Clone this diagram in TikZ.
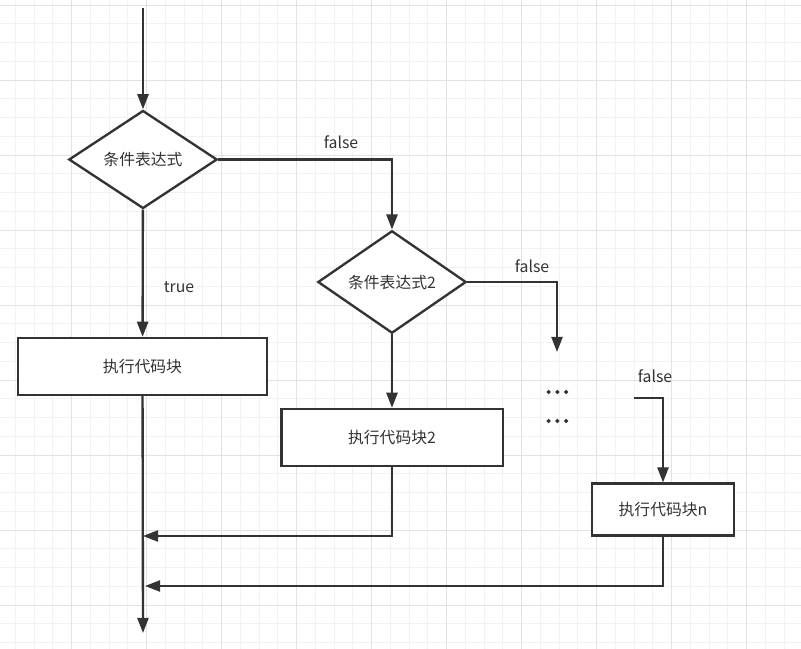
\documentclass[tikz,border=0pt]{standalone}
\usepackage{fontspec}
\newfontfamily\cjk{Noto Sans CJK SC}
\newfontfamily\cjkbold[FakeBold=4]{Noto Sans CJK SC}
\usetikzlibrary{
  arrows.meta,
  shapes.geometric,
  positioning
}
\definecolor{ink}{HTML}{333333}
\definecolor{gridmin}{HTML}{F2F2F2}
\definecolor{gridmaj}{HTML}{E2E2E2}
\tikzset{
  txt/.style={text=ink,font=\cjk\fontsize{13.5}{15}\selectfont},
  cond/.style={diamond,draw=ink,fill=white,line width=2pt,inner sep=0pt,
               minimum width=4.45cm,minimum height=2.94cm,txt},
  block/.style={rectangle,draw=ink,fill=white,line width=2pt,inner sep=0pt,txt},
  dots/.style={text=ink,font=\cjkbold\fontsize{20}{22}\selectfont},
  link/.style={->,draw=ink,line width=2pt},
  gridline/.style={draw=gridmin,line width=0.8pt},
  gridmajor/.style={draw=gridmaj,line width=0.8pt}
}

\begin{document}
\begin{tikzpicture}[x=0.03cm,y=-0.03cm,>={Triangle[length=13pt,width=9.5pt]}]
  \useasboundingbox (0,0) rectangle (801,649);
  % background grid
  \foreach \i in {0,...,42}
    \draw[gridline] ({15.45+18.75*\i},0) -- ({15.45+18.75*\i},649);
  \foreach \i in {0,...,34}
    \draw[gridline] (0,{5+18.75*\i}) -- (801,{5+18.75*\i});
  \foreach \i in {0,...,10}
    \draw[gridmajor] ({71.7+75*\i},0) -- ({71.7+75*\i},649);
  \foreach \i in {0,...,8}
    \draw[gridmajor] (0,{5+75*\i}) -- (801,{5+75*\i});

  \node[cond] (cond1) at (143,159.5) {条件表达式};
  \node[cond] (cond2) at (392,282)   {条件表达式2};
  \node[block,minimum width=7.47cm,minimum height=1.71cm] (run1) at (142.5,366.5) {执行代码块};
  \node[block,minimum width=6.64cm,minimum height=1.71cm] (run2) at (392,437.5)   {执行代码块2};
  \node[block,minimum width=4.27cm,minimum height=1.55cm] (runn) at (663,509.5)   {执行代码块n};

  \node[txt] (yes1) at (179,287) {true};
  \node[txt] (no1)  at (341,142) {false};
  \node[txt] (no2)  at (532,266) {false};
  \node[txt] (non)  at (655,376) {false};
  \node[dots] (more1) at (557,392) {…};
  \node[dots] (more2) at (557,421) {…};

  \coordinate (entry) at (143,8);
  \coordinate (gap)   at (557,352);
  \coordinate (restn) at (634,398);
  \coordinate (join1) at (143,536);
  \coordinate (join2) at (145,586);
  \coordinate (exit)  at (143,633);

  \foreach \u/\v in {entry/cond1,cond1/run1,cond2/run2,run1/exit}
    \draw[link] (\u) -- (\v);
  \draw[link] (cond1.east) -| (cond2.north);
  \draw[link] (cond2.east) -| (gap);
  \draw[link] (restn) -| (runn.north);
  \draw[link] (run2.south) |- (join1);
  \draw[link] (runn.south) |- (join2);
\end{tikzpicture}
\end{document}
